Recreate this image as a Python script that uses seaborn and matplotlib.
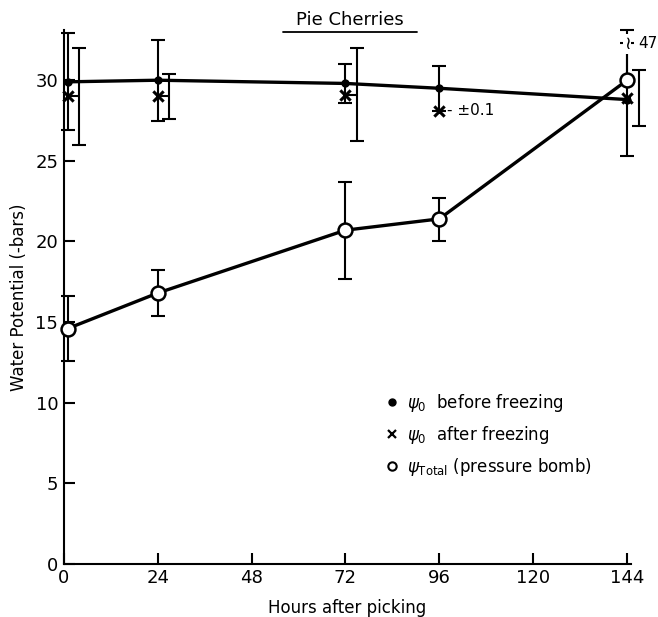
import numpy as np
import pandas as pd
import seaborn as sns
import matplotlib.pyplot as plt
from matplotlib.lines import Line2D

# values (water potential, -bars)
hours = [1, 24, 72, 96, 144]

before = [29.9, 30.0, 29.8, 29.5, 28.8]
before_err = [3.0, 2.5, 1.2, 1.4, 3.5]

after = [29.0, 29.0, 29.1, 28.1, 28.9]
after_err = [3.0, 1.4, 2.9, 0.1, 1.75]

total = [14.6, 16.8, 20.7, 21.4, 30.0]
total_err_lo = [2.0, 1.45, 3.0, 1.4, 0.0]
total_err_hi = [2.0, 1.45, 3.0, 1.3, 17.0]   # last one runs off the chart to 47

x_ticks = [0, 24, 48, 72, 96, 120, 144]
y_ticks = [0, 5, 10, 15, 20, 25, 30]

df = pd.DataFrame({"hours": hours, "before": before, "after": after, "total": total})

sns.set_style("ticks")
plt.rcParams['font.family'] = ['DejaVu Sans']
plt.rcParams['text.color'] = 'black'
plt.rcParams['axes.labelcolor'] = 'black'
plt.rcParams['xtick.color'] = 'black'
plt.rcParams['ytick.color'] = 'black'
plt.rcParams['axes.edgecolor'] = 'black'

fig = plt.figure(figsize=(6.58, 6.17), dpi=100)
ax = fig.add_axes([0.097, 0.086, 0.862, 0.865])

y_top = 33.1
ax.set_xlim(0, 145)
ax.set_ylim(0, y_top)

bar_kw = dict(fmt="none", ecolor="black", elinewidth=1.5, capsize=5, capthick=1.5, clip_on=False)

# psi_0 before freezing: small filled dots joined by a line
sns.lineplot(data=df, x="hours", y="before", ax=ax, color="black", lw=2.4,
             marker="o", markersize=6, markeredgewidth=0, errorbar=None, clip_on=False)
ax.errorbar(hours, before, yerr=before_err, **bar_kw)

# psi_total (pressure bomb): open circles
sns.lineplot(data=df, x="hours", y="total", ax=ax, color="black", lw=2.4,
             marker="o", markersize=10, markerfacecolor="white",
             markeredgecolor="black", markeredgewidth=1.8, errorbar=None,
             clip_on=False, zorder=4)
both = [i for i, lo in enumerate(total_err_lo) if lo > 0]
ax.errorbar([hours[i] for i in both], [total[i] for i in both],
            yerr=[[total_err_lo[i] for i in both], [total_err_hi[i] for i in both]], **bar_kw)
# upward-only bar, broken at the top of the chart (value 47)
for i, lo in enumerate(total_err_lo):
    if lo == 0:
        top = min(total[i] + total_err_hi[i], y_top)
        ax.vlines(hours[i], total[i], top, color="black", lw=1.5, zorder=3)
        ax.plot(hours[i], top, marker="_", ms=10, mew=1.5, color="black", clip_on=False)
        ax.text(hours[i], total[i] + 2.25, "\u2240", fontsize=13, ha="center", va="center",
                zorder=6, bbox=dict(fc="white", ec="none", pad=0.5))
        ax.text(hours[i] + 2.8, total[i] + 2.3, str(int(total[i] + total_err_hi[i])),
                fontsize=11, ha="left", va="center")

# psi_0 after freezing: x markers, bars drawn a little to the right
offset = 3
sns.scatterplot(data=df, x="hours", y="after", ax=ax, marker="x", s=55,
                color="black", linewidth=2.2, zorder=5, clip_on=False)
side = [(h + offset, v, e) for h, v, e in zip(hours, after, after_err) if e > 0.1]
ax.hlines([s[1] for s in side], [s[0] - offset for s in side], [s[0] for s in side],
          color="black", lw=1.5)
ax.errorbar([s[0] for s in side], [s[1] for s in side], yerr=[s[2] for s in side], **bar_kw)
small = [(h, v, e) for h, v, e in zip(hours, after, after_err) if e <= 0.1]
for h, v, e in small:
    ax.text(h + 2, v, "- \u00b1" + str(e), fontsize=11, va="center", ha="left")

ax.set_xticks(x_ticks)
ax.set_yticks(y_ticks)
ax.tick_params(direction="in", length=8, width=1.5, labelsize=13, pad=4)
sns.despine(ax=ax)
for s in ["left", "bottom"]:
    ax.spines[s].set_linewidth(1.5)

ax.set_xlabel("Hours after picking", fontsize=12, labelpad=8)
ax.set_ylabel("Water Potential (-bars)", fontsize=12, labelpad=5)

fig.text(0.532, 0.968, "Pie Cherries", fontsize=13, ha="center", va="center")
fig.add_artist(Line2D([0.43, 0.634], [0.948, 0.948], color="black", lw=1.3))

handles = [
    Line2D([], [], ls="none", marker="o", color="black", markersize=5),
    Line2D([], [], ls="none", marker="x", color="black", markersize=6, mew=1.6),
    Line2D([], [], ls="none", marker="o", markerfacecolor="white",
           markeredgecolor="black", markersize=6, mew=1.5),
]
labels = [r"$\psi_0$  before freezing", r"$\psi_0$  after freezing",
          r"$\psi_{\mathrm{Total}}$ (pressure bomb)"]
ax.legend(handles, labels, loc="upper left", bbox_to_anchor=(0.54, 0.35),
          frameon=False, fontsize=12, handlelength=0.8, handletextpad=0.5,
          labelspacing=0.6)

plt.savefig("out.png", dpi=100)
